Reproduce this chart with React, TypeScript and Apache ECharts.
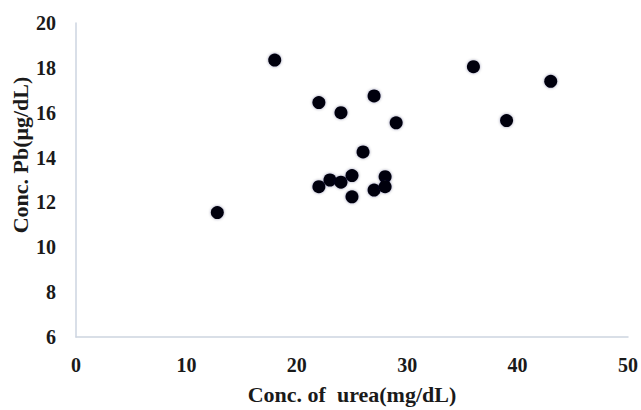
import React, { useEffect, useRef } from "react";
import * as echarts from "echarts";

const ureaValues: number[] = [12.8, 18, 22, 22, 23, 24, 24, 25, 25, 26, 27, 27, 28, 28, 29, 36, 39, 43];
const pbValues: number[] = [11.55, 18.35, 16.45, 12.7, 13.0, 12.9, 16.0, 13.2, 12.25, 14.25, 16.75, 12.55, 13.15, 12.7, 15.55, 18.05, 15.65, 17.4];

const xTitle = "Conc. of  urea(mg/dL)";
const yTitle = "Conc. Pb(μg/dL)";

export default function App() {
  const ref = useRef<HTMLDivElement>(null);
  useEffect(() => {
    if (!ref.current) return;
    const chart = echarts.init(ref.current, null, { renderer: "svg" });
    const font = "'Liberation Serif', 'Times New Roman', serif";
    chart.setOption({
      animation: false,
      backgroundColor: "#ffffff",
      grid: { left: 76, right: 13, top: 23, bottom: 70, containLabel: false },
      xAxis: {
        type: "value",
        min: 0,
        max: 50,
        interval: 10,
        name: xTitle,
        nameLocation: "middle",
        nameGap: 46,
        nameTextStyle: { fontFamily: font, fontWeight: "bold", fontSize: 22, color: "#1a1a1a" },
        axisLine: { show: true, lineStyle: { color: "#cdd5e0", width: 1.5 } },
        axisTick: { show: false },
        splitLine: { show: false },
        axisLabel: { fontFamily: font, fontWeight: "bold", fontSize: 20, color: "#1a1a1a", margin: 18 },
      },
      yAxis: {
        type: "value",
        min: 6,
        max: 20,
        interval: 2,
        axisLine: { show: true, lineStyle: { color: "#cdd5e0", width: 1.5 } },
        axisTick: { show: false },
        splitLine: { show: false },
        axisLabel: { fontFamily: font, fontWeight: "bold", fontSize: 20, color: "#1a1a1a", margin: 20 },
      },
      graphic: [
        {
          type: "text",
          x: 20,
          y: 155,
          rotation: Math.PI / 2,
          style: {
            text: yTitle,
            fontFamily: font,
            fontWeight: "bold",
            fontSize: 22,
            fill: "#1a1a1a",
            textAlign: "center",
            textVerticalAlign: "middle",
          },
        },
      ],
      series: [
        {
          type: "scatter",
          symbol: "circle",
          symbolSize: 13,
          itemStyle: { color: "#05050f", opacity: 1, shadowBlur: 3, shadowColor: "rgba(20,30,60,0.4)" },
          data: ureaValues.map((x, i) => [x, pbValues[i]]),
        },
      ],
    });
    return () => chart.dispose();
  }, []);
  return <div ref={ref} style={{ width: 641, height: 410, position: "absolute", left: 0, top: 0 }} />;
}
